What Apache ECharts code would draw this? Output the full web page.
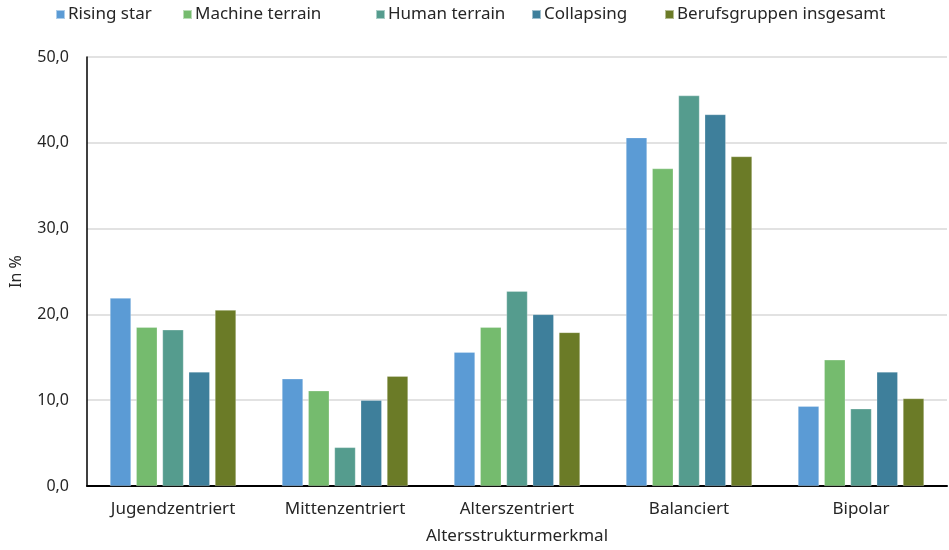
<!DOCTYPE html>
<html>
<head>
<meta charset="utf-8">
<script src="https://cdn.jsdelivr.net/npm/echarts@6/dist/echarts.min.js"></script>
<style>
  html, body { margin: 0; padding: 0; background: #fff; }
  #chart { width: 949px; height: 550px; }
</style>
</head>
<body>
<div id="chart"></div>
<script>
  // categories (x axis)
  var categories = ['Jugendzentriert', 'Mittenzentriert', 'Alterszentriert', 'Balanciert', 'Bipolar']
  var seriesNames = ['Rising star', 'Machine terrain', 'Human terrain', 'Collapsing', 'Berufsgruppen insgesamt']
  // values in %
  var risingStar = [21.9, 12.5, 15.6, 40.6, 9.3]
  var machineTerrain = [18.5, 11.1, 18.5, 37.0, 14.7]
  var humanTerrain = [18.2, 4.5, 22.7, 45.5, 9.0]
  var collapsing = [13.3, 10.0, 20.0, 43.3, 13.3]
  var insgesamt = [20.5, 12.8, 17.9, 38.4, 10.2]
  var colors = ['#5B9BD5', '#75BB6E', '#559C8E', '#3E7F9B', '#6B7B27']

  var values = [risingStar, machineTerrain, humanTerrain, collapsing, insgesamt]
  var legendLeft = [55, 182, 375, 531, 664]
  var font = 'Noto Sans'
  var txt = '#262626'

  var chart = echarts.init(document.getElementById('chart'))

  var legends = seriesNames.map(function (n, i) {
    return {
      data: [n],
      left: legendLeft[i],
      top: 6,
      icon: 'rect',
      itemWidth: 9,
      itemHeight: 9,
      itemGap: 0,
      padding: 0,
      textStyle: { fontFamily: font, fontSize: 17, color: txt, padding: [0, 0, 0, -2] },
    }
  })

  var series = seriesNames.map(function (n, i) {
    return {
      name: n,
      type: 'bar',
      data: values[i],
      barWidth: 21,
      barGap: '25%',
      itemStyle: { color: colors[i], borderColor: 'rgba(255,255,255,0.5)', borderWidth: 0.5 },
    }
  })

  var option = {
    animation: false,
    color: colors,
    legend: legends,
    grid: { left: 86, right: 2, top: 57, bottom: 63 },
    xAxis: {
      type: 'category',
      data: categories,
      name: 'Altersstrukturmerkmal',
      nameLocation: 'middle',
      nameGap: 42,
      nameTextStyle: { fontFamily: font, fontSize: 17, color: txt },
      axisLine: { lineStyle: { color: '#000', width: 2 } },
      axisTick: { show: false },
      axisLabel: { fontFamily: font, fontSize: 17, color: txt, margin: 15 },
    },
    yAxis: {
      type: 'value',
      min: 0,
      max: 50,
      interval: 10,
      name: 'In %',
      nameLocation: 'middle',
      nameGap: 63,
      nameTextStyle: { fontFamily: font, fontSize: 16, color: txt },
      axisLine: { show: true, lineStyle: { color: '#000', width: 1.5 } },
      axisTick: { show: false },
      splitLine: { lineStyle: { color: '#D9D9D9', width: 1.5 } },
      axisLabel: {
        fontFamily: font, fontSize: 16, color: txt, margin: 18,
        formatter: function (v) { return v.toFixed(1).replace('.', ',') },
      },
    },
    series: series,
  }
  chart.setOption(option)
</script>
</body>
</html>
